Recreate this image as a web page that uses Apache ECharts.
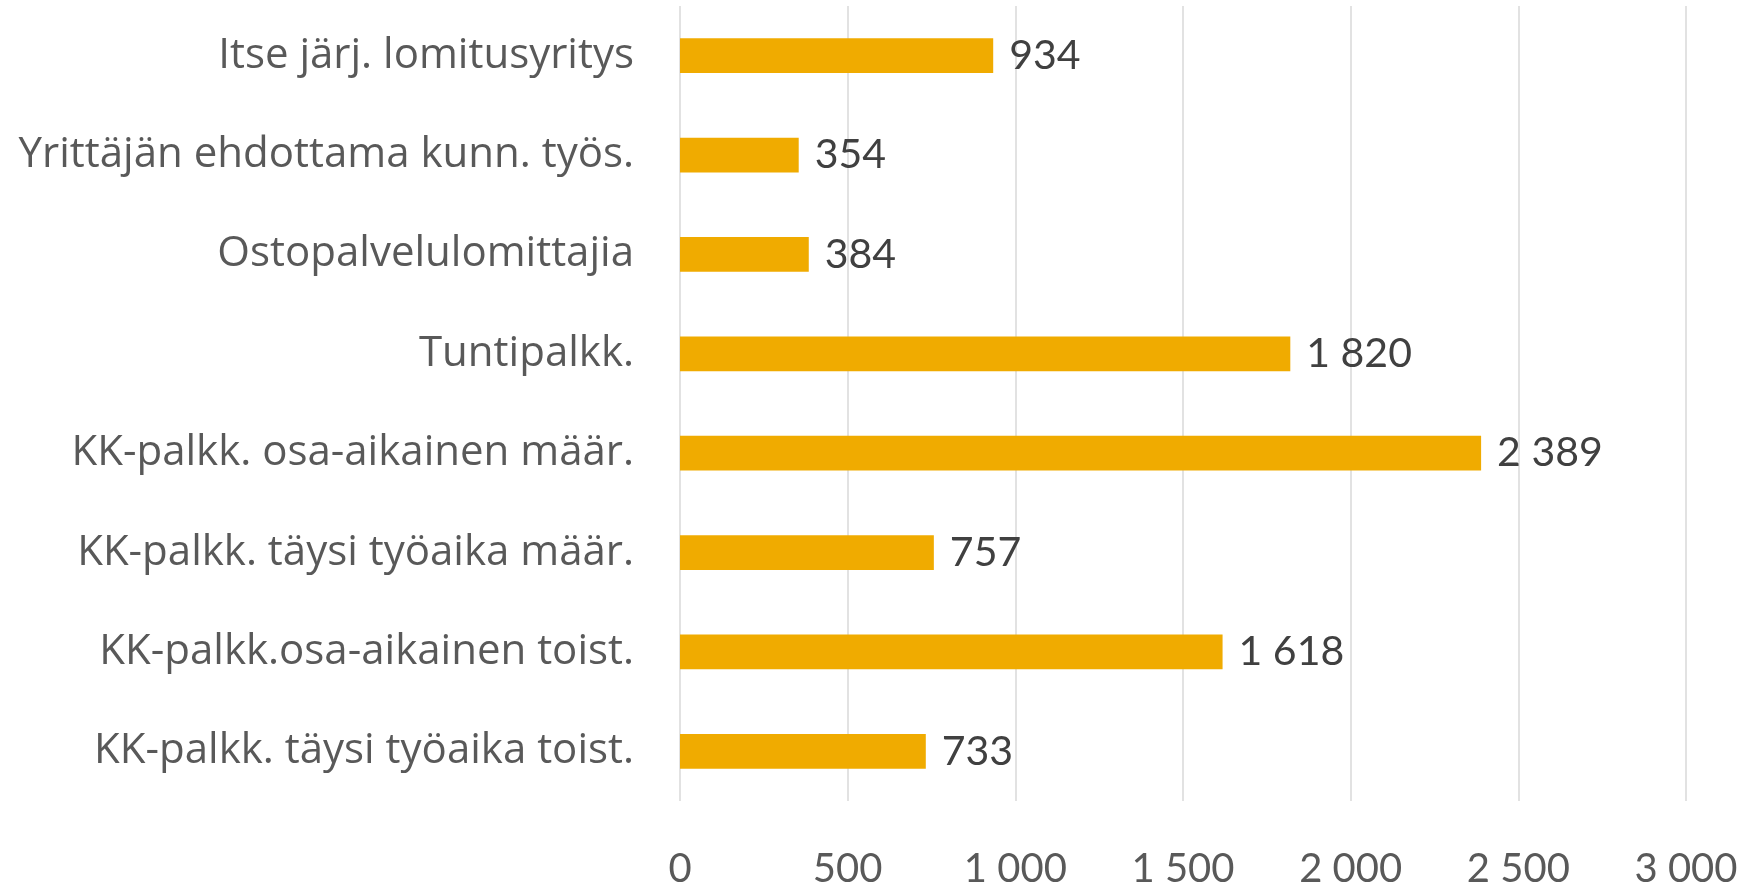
<!DOCTYPE html>
<html><head><meta charset="utf-8">
<script src="https://cdn.jsdelivr.net/npm/echarts@6/dist/echarts.min.js"></script>
<style>html,body{margin:0;padding:0;background:#fff}#c{width:1751px;height:889px}</style>
</head><body><div id="c"></div>
<script>
const categories = [
  "Itse järj. lomitusyritys",
  "Yrittäjän ehdottama kunn. työs.",
  "Ostopalvelulomittajia",
  "Tuntipalkk.",
  "KK-palkk. osa-aikainen määr.",
  "KK-palkk. täysi työaika määr.",
  "KK-palkk.osa-aikainen toist.",
  "KK-palkk. täysi työaika toist."
];
const values = [934, 354, 384, 1820, 2389, 757, 1618, 733];
const xTicks = [0, 500, 1000, 1500, 2000, 2500, 3000];

function fmt(v){ return String(v).replace(/\B(?=(\d{3})+(?!\d))/g, ' '); }

const chart = echarts.init(document.getElementById('c'));
chart.setOption({
  animation: false,
  backgroundColor: '#fff',
  grid: { left: 680, right: 65, top: 6, bottom: 82, containLabel: false },
  xAxis: {
    type: 'value', min: xTicks[0], max: xTicks[xTicks.length-1], interval: 500,
    axisLine: { show: false }, axisTick: { show: false },
    splitLine: { show: true, lineStyle: { color: '#d9d9d9', width: 1.5 } },
    axisLabel: { color: '#595959', fontFamily: 'Lato', fontSize: 40, margin: 48, formatter: fmt }
  },
  yAxis: {
    type: 'category', data: categories, inverse: true,
    axisLine: { show: false }, axisTick: { show: false },
    axisLabel: { color: '#595959', fontFamily: 'Open Sans', fontSize: 42, margin: 46, padding: [5, 0, 0, 0] }
  },
  series: [{
    type: 'bar', data: values, barWidth: '35%',
    itemStyle: { color: '#F0AB00' },
    label: { show: true, position: 'right', distance: 16, color: '#404040', fontFamily: 'Lato', fontSize: 41,
      padding: [10, 0, 0, 0], formatter: p => fmt(p.value) }
  }]
});
</script></body></html>
